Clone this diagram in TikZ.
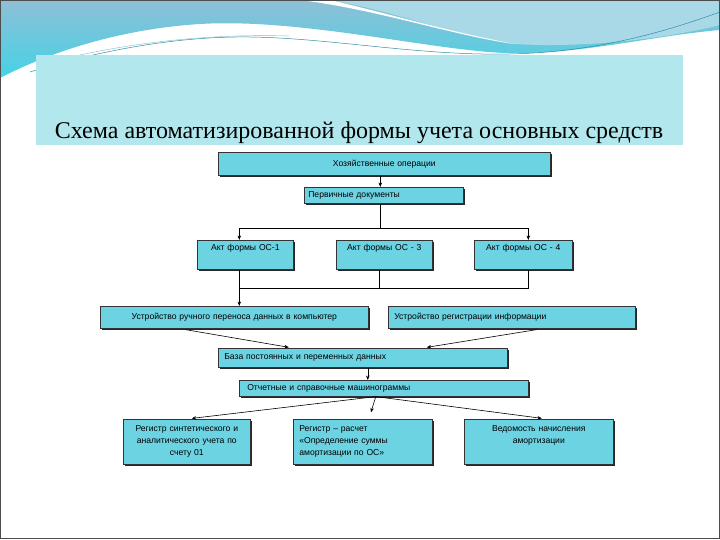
\documentclass[tikz,border=0pt]{standalone}
\usepackage{fontspec}
\setmainfont{Liberation Serif}
\newfontfamily\boxfont{Liberation Sans}
\usetikzlibrary{arrows.meta,shadows,positioning}
\definecolor{boxcyan}{HTML}{6CD3E3}
\definecolor{titlecyan}{HTML}{B3E7EE}
\definecolor{wavetop}{HTML}{8EBFD7}
\definecolor{wavelow}{HTML}{45D3E4}
\definecolor{waveright}{HTML}{A9D9E7}
\definecolor{waveline}{HTML}{2E8FA6}

\begin{document}
\begin{tikzpicture}[x=1pt,y=-1pt,
  blk/.style={draw=black!80, line width=0.6pt, fill=boxcyan, anchor=north west,
    inner xsep=4pt, inner ysep=0pt, font=\boxfont\fontsize{8.6}{12}\selectfont,
    drop shadow={shadow xshift=1.8pt, shadow yshift=-1.8pt, opacity=1, fill=black!85}},
  arr/.style={-{Stealth[length=4.5pt,width=3.5pt]}, line width=0.6pt}]
\useasboundingbox (0,0) rectangle (720,540);
\fill[white] (0,0) rectangle (720,540);
% waves at the top
\shade[top color=wavetop, bottom color=wavelow]
  (0,0) -- (720,0) -- (720,30) .. controls (650,36) and (580,55) .. (505,53)
  .. controls (430,50) and (300,18) .. (200,24)
  .. controls (120,29) and (50,52) .. (0,78) -- cycle;
\fill[waveright] (330,0) -- (720,0) -- (720,25) .. controls (660,40) and (580,48) .. (515,44)
  .. controls (460,38) and (400,12) .. cycle;
\fill[white] (300,0) .. controls (380,10) and (450,35) .. (515,44)
  .. controls (450,32) and (390,14) .. (330,0) -- cycle;
\draw[waveline, line width=0.5pt] (30,72) .. controls (100,50) and (180,36) .. (250,37)
  .. controls (330,38) and (420,56) .. (510,54) .. controls (600,52) and (670,30) .. (720,12);
\draw[waveline!60, line width=0.4pt] (80,55) .. controls (150,40) and (220,34) .. (290,36);
% title
\fill[titlecyan] (36,55) rectangle (683,145);
\node (title) at (359,139) [anchor=base, font=\fontsize{24}{27}\selectfont]
  {Схема автоматизированной формы учета основных средств};
% boxes
\node[blk, text width=324pt, minimum height=23pt, align=center] (hoz) at (218,152) {Хозяйственные операции};
\node[blk, text width=151pt, minimum height=16pt, align=left] (perv) at (304,187) {Первичные документы};
\node[blk, text width=88pt, minimum height=29pt, text depth=15pt, align=center] (akt1) at (197,240) {Акт формы ОС-1};
\node[blk, text width=88pt, minimum height=29pt, text depth=15pt, align=center] (akt3) at (336,240) {Акт формы ОС - 3};
\node[blk, text width=90pt, minimum height=29pt, text depth=15pt, align=center] (akt4) at (474,240) {Акт формы ОС - 4};
\node[blk, text width=260pt, minimum height=22pt, align=center] (ustr1) at (100,306) {Устройство ручного переноса данных в компьютер};
\node[blk, text width=235pt, minimum height=22pt, align=left, inner xsep=6pt] (ustr2) at (388,306) {Устройство регистрации информации};
\node[blk, text width=277pt, minimum height=19pt, align=left, inner xsep=6pt] (baza) at (218,348) {База постоянных и переменных данных};
\node[blk, text width=273pt, minimum height=16pt, align=left, inner xsep=8pt] (otch) at (239,380) {Отчетные и справочные машинограммы};
\node[blk, text width=119pt, minimum height=45pt, align=center] (reg1) at (123,419)
  {Регистр синтетического и\\аналитического учета по\\счету 01};
\node[blk, text width=127pt, minimum height=45pt, align=left, inner xsep=6pt] (reg2) at (293,419)
  {Регистр – расчет\\«Определение суммы\\амортизации по ОС»};
\node[blk, text width=141pt, minimum height=45pt, text depth=26pt, align=center] (reg3) at (464,419)
  {Ведомость начисления\\амортизации};
% connectors
\draw[arr] ([xshift=-4pt]hoz.south) -- ([xshift=-4pt]hoz.south |- perv.north);
\draw ([xshift=-4pt]perv.south) -- ++(0,25) coordinate (split);
\draw[arr] (split) -| ([xshift=-6pt]akt1.north);
\draw[arr] (split) -| ([xshift=5pt]akt4.north);
\draw ([xshift=-6pt]akt1.south) -- ++(0,19) coordinate (bus) -| ([xshift=5pt]akt4.south);
\draw ([xshift=-5pt]akt3.south) -- ([xshift=-5pt]akt3.south |- bus);
\draw[arr] (bus) -- (bus |- ustr1.north);
\draw[arr, shorten >=4pt] ([xshift=-49pt,yshift=-1pt]ustr1.south) -- ([xshift=-70pt]baza.north);
\draw[arr, shorten >=4pt] ([xshift=25pt,yshift=-1pt]ustr2.south) -- ([xshift=60pt]baza.north);
\draw[arr] ([xshift=5pt]baza.south) -- ([xshift=5pt]baza.south |- otch.north);
\draw[arr, shorten >=5pt] ([xshift=-8pt]otch.south) -- (reg1.north);
\draw[arr, shorten >=7pt] ([xshift=-8pt]otch.south) -- ([xshift=6pt]reg2.north);
\draw[arr, shorten >=5pt] ([xshift=-8pt]otch.south) -- ([xshift=8pt]reg3.north);
% frame
\draw[black!70, line width=1pt] (0.5,0.5) rectangle (719.5,538.5);
\end{tikzpicture}
\end{document}
